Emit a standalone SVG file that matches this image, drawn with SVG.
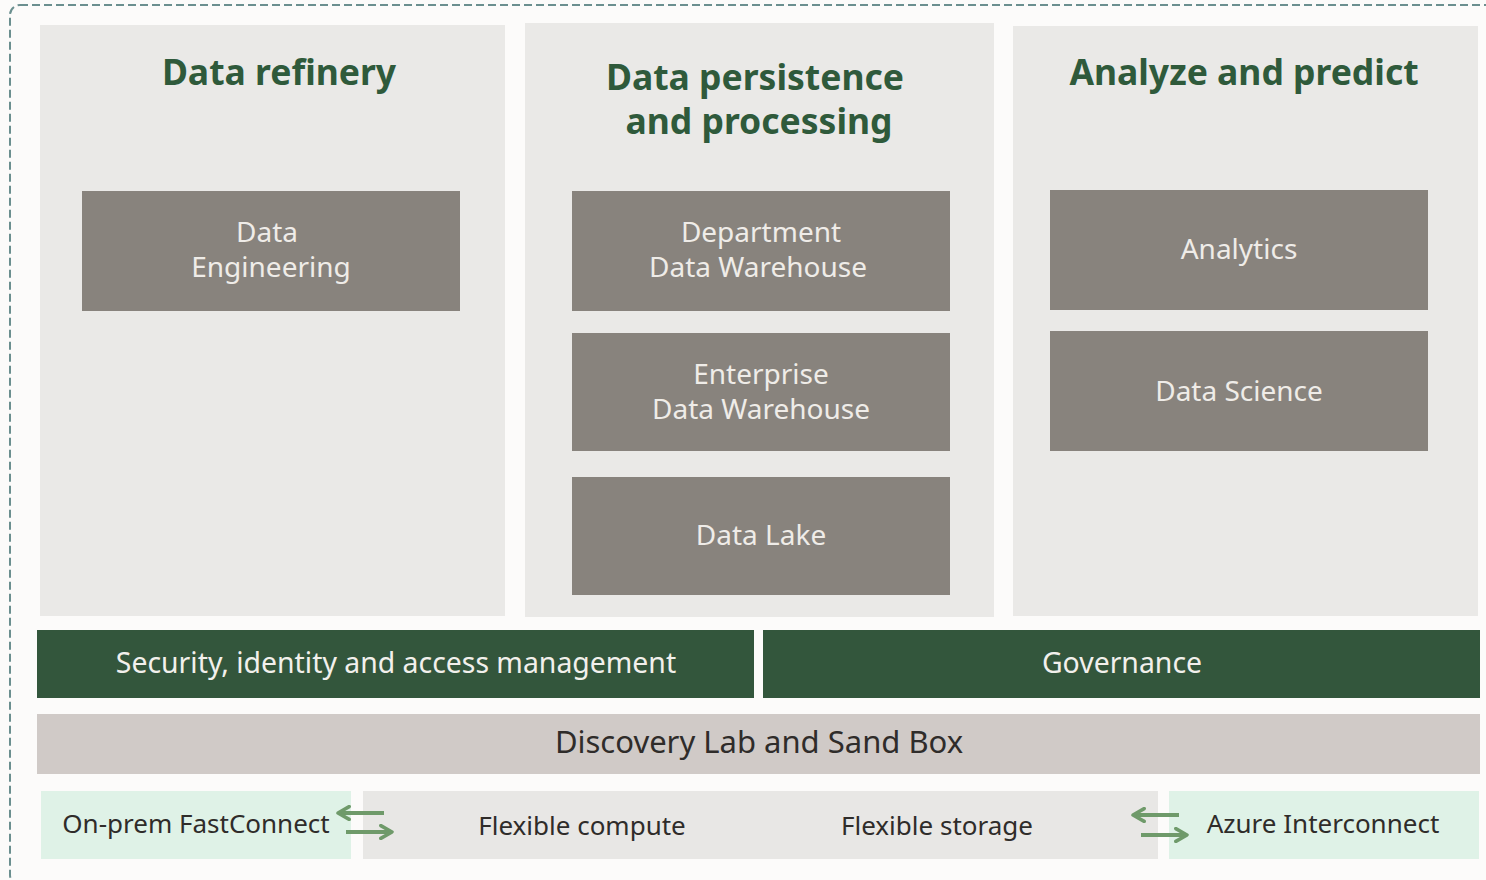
<svg xmlns="http://www.w3.org/2000/svg" width="1486" height="880" viewBox="0 0 1486 880">
  <defs>
    <style>
      .panel { fill: #eae9e7; }
      .head { font-family: "Noto Sans", "Open Sans", sans-serif; font-weight: 700; font-size: 35.5px; fill: #2f5a3b; text-anchor: middle; }
      .box { fill: #88837d; }
      .boxt { font-family: "Noto Sans", "Open Sans", sans-serif; font-size: 28px; fill: #efece8; text-anchor: middle; }
      .bar { fill: #33563c; }
      .bart { font-family: "Noto Sans", "Open Sans", sans-serif; font-size: 28.4px; fill: #f2f0ec; text-anchor: middle; }
      .lab { fill: #d0cac7; }
      .labt { font-family: "Noto Sans", "Open Sans", sans-serif; font-size: 31px; fill: #2f2c2a; text-anchor: middle; }
      .conn { fill: #dff2e7; }
      .infra { fill: #e8e7e5; }
      .smt { font-family: "Noto Sans", "Open Sans", sans-serif; font-size: 26px; fill: #2f2c2a; text-anchor: middle; }
      .arrow { stroke: #6f9a6a; stroke-width: 4; fill: none; }
    </style>
    <marker id="ah" viewBox="0 0 10 10" refX="8" refY="5" markerWidth="4" markerHeight="4" orient="auto" markerUnits="strokeWidth">
      <path d="M1,1 L8,5 L1,9" fill="none" stroke="#6f9a6a" stroke-width="2.2" stroke-linecap="round" stroke-linejoin="round"/>
    </marker>
  </defs>

  <rect width="1486" height="880" fill="#fcfbfa"/>
  <!-- outer dashed boundary -->
  <rect x="10" y="5" width="1500" height="880" rx="10" fill="none" stroke="#6b8f8f" stroke-width="2" stroke-dasharray="8,4"/>

  <!-- column panels -->
  <g id="col-refinery">
    <rect class="panel" x="40" y="25" width="465" height="591"/>
    <text class="head" x="279" y="85">Data refinery</text>
  </g>
  <g id="col-persistence">
    <rect class="panel" x="525" y="23" width="469" height="594"/>
    <text class="head" x="755" y="90">Data persistence</text>
    <text class="head" x="759" y="134">and processing</text>
  </g>
  <g id="col-analyze">
    <rect class="panel" x="1013" y="26" width="465" height="590"/>
    <text class="head" x="1244" y="85">Analyze and predict</text>
  </g>

  <g id="data-engineering">
    <rect class="box" x="82" y="191" width="378" height="120"/>
    <text class="boxt" x="267" y="242">Data</text>
    <text class="boxt" x="271" y="277">Engineering</text>
  </g>
  <g id="dept-dw">
    <rect class="box" x="572" y="191" width="378" height="120"/>
    <text class="boxt" x="761" y="242">Department</text>
    <text class="boxt" x="758" y="277">Data Warehouse</text>
  </g>
  <g id="enterprise-dw">
    <rect class="box" x="572" y="333" width="378" height="118"/>
    <text class="boxt" x="761" y="384">Enterprise</text>
    <text class="boxt" x="761" y="419">Data Warehouse</text>
  </g>
  <g id="data-lake">
    <rect class="box" x="572" y="477" width="378" height="118"/>
    <text class="boxt" x="761" y="545">Data Lake</text>
  </g>
  <g id="analytics">
    <rect class="box" x="1050" y="190" width="378" height="120"/>
    <text class="boxt" x="1239" y="259">Analytics</text>
  </g>
  <g id="data-science">
    <rect class="box" x="1050" y="331" width="378" height="120"/>
    <text class="boxt" x="1239" y="401">Data Science</text>
  </g>

  <g id="security">
    <rect class="bar" x="37" y="630" width="717" height="68"/>
    <text class="bart" x="396" y="673">Security, identity and access management</text>
  </g>
  <g id="governance">
    <rect class="bar" x="763" y="630" width="717" height="68"/>
    <text class="bart" x="1122" y="673">Governance</text>
  </g>

  <g id="discovery-lab">
    <rect class="lab" x="37" y="714" width="1443" height="60"/>
    <text class="labt" x="759" y="753">Discovery Lab and Sand Box</text>
  </g>

  <g id="fastconnect">
    <rect class="conn" x="41" y="791" width="310" height="68"/>
    <text class="smt" x="196" y="833">On-prem FastConnect</text>
  </g>
  <g id="flex-infra">
    <rect class="infra" x="363" y="791" width="795" height="68"/>
    <text class="smt" x="582" y="835">Flexible compute</text>
    <text class="smt" x="937" y="835">Flexible storage</text>
  </g>
  <g id="azure">
    <rect class="conn" x="1169" y="791" width="310" height="68"/>
    <text class="smt" x="1323" y="833">Azure Interconnect</text>
  </g>

  <g id="connectors">
    <line class="arrow" x1="384" y1="813" x2="338" y2="813" marker-end="url(#ah)"/>
    <line class="arrow" x1="346" y1="832" x2="392" y2="832" marker-end="url(#ah)"/>
    <line class="arrow" x1="1179" y1="815" x2="1133" y2="815" marker-end="url(#ah)"/>
    <line class="arrow" x1="1141" y1="835" x2="1187" y2="835" marker-end="url(#ah)"/>
  </g>
</svg>
